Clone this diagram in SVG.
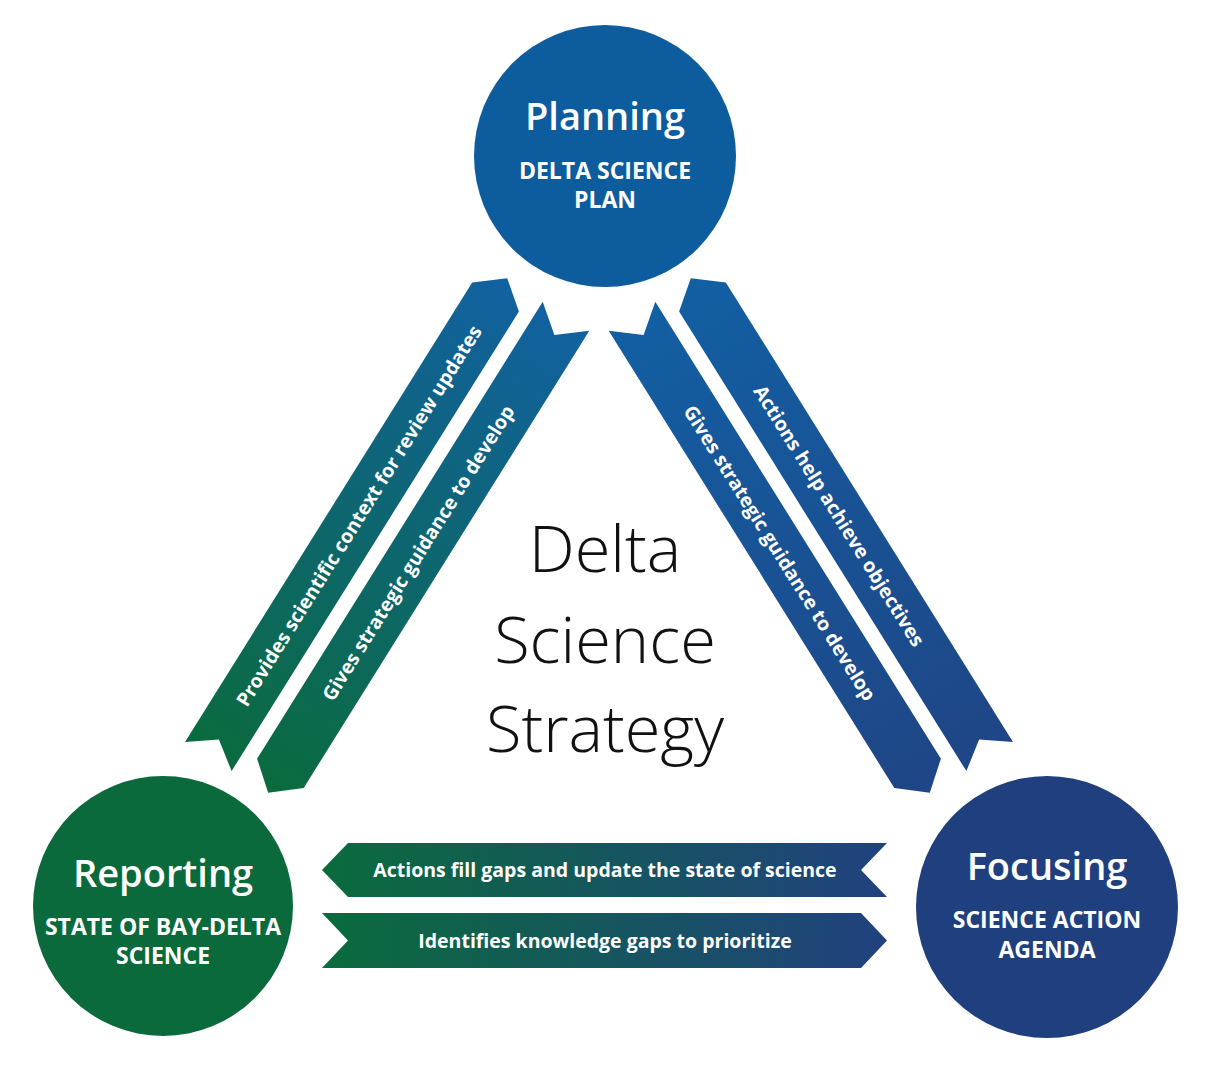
<svg xmlns="http://www.w3.org/2000/svg" width="1208" height="1079" viewBox="0 0 1208 1079">
<style>
.title{font-family:"Open Sans","Liberation Sans",sans-serif;font-weight:600;font-size:38px;fill:#fff;text-anchor:middle}
.sub{font-family:"Open Sans","Liberation Sans",sans-serif;font-weight:700;font-size:23px;fill:#fff;text-anchor:middle}
.band{font-family:"Open Sans","Liberation Sans",sans-serif;font-weight:700;font-size:19.5px;fill:#fff;text-anchor:middle}
.center{font-family:"Open Sans","Liberation Sans",sans-serif;font-weight:300;font-size:65px;fill:#111;text-anchor:middle}
</style>
<defs>
<linearGradient id="gLeft" gradientUnits="userSpaceOnUse" x1="530" y1="290" x2="230" y2="780">
<stop offset="0" stop-color="#1161a1"/>
<stop offset="1" stop-color="#0a6b3c"/>
</linearGradient>
<linearGradient id="gRight" gradientUnits="userSpaceOnUse" x1="670" y1="290" x2="970" y2="780">
<stop offset="0" stop-color="#125fa3"/>
<stop offset="1" stop-color="#1f4585"/>
</linearGradient>
<linearGradient id="gHoriz" gradientUnits="userSpaceOnUse" x1="322" y1="0" x2="887" y2="0">
<stop offset="0" stop-color="#0a6b3c"/>
<stop offset="1" stop-color="#21417f"/>
</linearGradient>
</defs>
<rect width="1208" height="1079" fill="#fff"/>

<g id="connectors">
<g id="provides">
<polygon points="185,742 218.9,739.6 231.6,771.1 518.9,311.5 507.2,278.3 472.2,282.4" fill="url(#gLeft)"/>
<text class="band" transform="translate(358.8,515.8) rotate(-58)" y="7">Provides scientific context for review updates</text>
</g>
<g id="gives-left">
<polygon points="268.2,792.8 303.7,787.9 589.3,330.8 554.4,334.9 542.7,301.7 257.1,758.7" fill="url(#gLeft)"/>
<text class="band" transform="translate(418.2,552.9) rotate(-58)" y="7">Gives strategic guidance to develop</text>
</g>
<g id="actions-help">
<polygon points="1013,742 979.1,739.6 966.4,771.1 679.1,311.5 690.8,278.3 725.8,282.4" fill="url(#gRight)"/>
<text class="band" transform="translate(839.2,515.8) rotate(58)" y="7">Actions help achieve objectives</text>
</g>
<g id="gives-right">
<polygon points="929.8,792.8 894.3,787.9 608.7,330.8 643.6,334.9 655.3,301.7 940.9,758.7" fill="url(#gRight)"/>
<text class="band" transform="translate(779.8,552.9) rotate(58)" y="7">Gives strategic guidance to develop</text>
</g>
<g id="fill-gaps">
<polygon points="322,870 348,843 887,843 861,870 887,897 348,897" fill="url(#gHoriz)"/>
<text class="band" x="605" y="877">Actions fill gaps and update the state of science</text>
</g>
<g id="identifies">
<polygon points="322,913 861,913 887,940.5 861,968 322,968 348,940.5" fill="url(#gHoriz)"/>
<text class="band" x="605" y="947.5">Identifies knowledge gaps to prioritize</text>
</g>
</g>

<g id="planning">
<circle cx="605" cy="156" r="131" fill="#0d5c9d"/>
<text class="title" x="605" y="130">Planning</text>
<text class="sub" x="605" y="179">DELTA SCIENCE</text>
<text class="sub" x="605" y="208">PLAN</text>
</g>
<g id="reporting">
<circle cx="163" cy="906" r="130" fill="#0a6a3b"/>
<text class="title" x="163" y="887">Reporting</text>
<text class="sub" x="163" y="935">STATE OF BAY-DELTA</text>
<text class="sub" x="163" y="964">SCIENCE</text>
</g>
<g id="focusing">
<circle cx="1047" cy="907" r="131" fill="#203f7e"/>
<text class="title" x="1047" y="880">Focusing</text>
<text class="sub" x="1047" y="928">SCIENCE ACTION</text>
<text class="sub" x="1047" y="958">AGENDA</text>
</g>

<g id="center-title">
<text class="center" x="605" y="572">Delta</text>
<text class="center" x="605" y="663">Science</text>
<text class="center" x="605" y="752">Strategy</text>
</g>
</svg>
